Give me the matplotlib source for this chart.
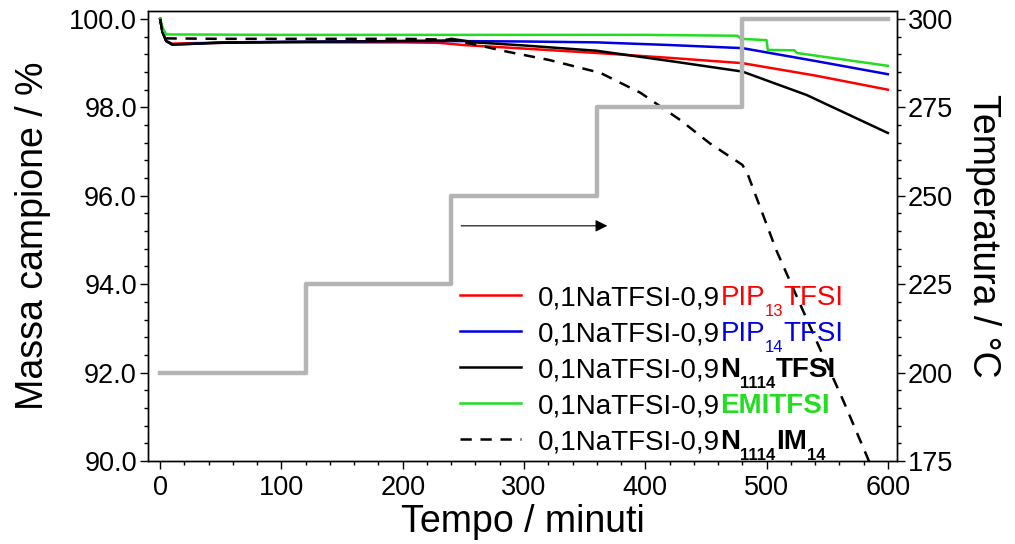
import numpy as np
import matplotlib
matplotlib.use('Agg')
import matplotlib.pyplot as plt
from matplotlib.ticker import MultipleLocator, FormatStrFormatter

plt.rcParams['font.family'] = ['Liberation Sans', 'DejaVu Sans']

# temperature program (step)
temp_t = [0, 120, 240, 360, 480, 600]
temp_v = [200, 225, 250, 275, 300, 300]

# mass curves
pip13_t = [0, 2, 5, 10, 20, 50, 100, 150, 200, 230, 250, 300, 360, 420, 480, 540, 600]
pip13_m = [100.0, 99.7, 99.5, 99.44, 99.45, 99.46, 99.47, 99.47, 99.47, 99.46, 99.41, 99.33, 99.23, 99.12, 99.0, 98.72, 98.4]

pip14_t = [0, 2, 5, 10, 20, 50, 100, 200, 240, 300, 360, 420, 480, 540, 600]
pip14_m = [100.0, 99.7, 99.5, 99.42, 99.43, 99.47, 99.48, 99.5, 99.5, 99.49, 99.47, 99.41, 99.34, 99.05, 98.75]

n1114_t = [0, 2, 5, 10, 20, 50, 100, 200, 235, 240, 260, 300, 360, 420, 480, 533, 600]
n1114_m = [100.0, 99.7, 99.5, 99.42, 99.43, 99.46, 99.48, 99.5, 99.51, 99.55, 99.47, 99.4, 99.28, 99.05, 98.81, 98.28, 97.42]

emi_t = [0, 2, 5, 100, 200, 300, 400, 476, 479, 500, 501, 523, 525, 600]
emi_m = [100.0, 99.8, 99.65, 99.64, 99.64, 99.64, 99.64, 99.62, 99.55, 99.52, 99.3, 99.29, 99.23, 98.94]

im14_t = [0, 2, 5, 50, 100, 150, 200, 240, 260, 286, 321, 363, 396, 429, 453, 470, 480, 484, 508, 536, 563, 583, 600]
im14_m = [100.0, 99.7, 99.56, 99.55, 99.55, 99.55, 99.55, 99.53, 99.42, 99.26, 99.07, 98.78, 98.33, 97.71, 97.19, 96.88, 96.7, 96.52, 94.77, 93.03, 91.38, 90.09, 88.9]

fig = plt.figure(figsize=(10.15, 5.44), dpi=100)
ax = fig.add_subplot(111)
fig.subplots_adjust(left=0.1458, right=0.8837, top=0.9798, bottom=0.1526)
ax2 = ax.twinx()

lw = 1.8
l1, = ax.plot(pip13_t, pip13_m, color='#ff0000', lw=lw)
l2, = ax.plot(pip14_t, pip14_m, color='#0000e0', lw=lw)
l3, = ax.plot(n1114_t, n1114_m, color='black', lw=lw)
l4, = ax.plot(emi_t, emi_m, color='#22dd22', lw=lw)
l5, = ax.plot(im14_t, im14_m, color='black', lw=lw, dashes=(4.5, 3.5))

ax2.plot(temp_t, temp_v, color='#b4b4b4', lw=3.2, drawstyle='steps-post')

ax.annotate('', xy=(371, 95.32), xytext=(246, 95.32),
            arrowprops=dict(arrowstyle='-|>', color='black', lw=0.8, mutation_scale=18))

ax.set_xlim(-10, 607.5)
ax.set_ylim(90, 100.18)
ax2.set_ylim(175, 302.25)

ax.xaxis.set_major_locator(MultipleLocator(100))
ax.xaxis.set_minor_locator(MultipleLocator(20))
ax.yaxis.set_major_locator(MultipleLocator(2))
ax.yaxis.set_minor_locator(MultipleLocator(0.4))
ax.yaxis.set_major_formatter(FormatStrFormatter('%.1f'))
ax2.yaxis.set_major_locator(MultipleLocator(25))
ax2.yaxis.set_minor_locator(MultipleLocator(5))

for a in (ax, ax2):
    a.tick_params(which='major', direction='out', length=6, width=1, labelsize=19.5,
                  colors='black', pad=2)
    a.tick_params(which='minor', direction='out', length=3, width=1)
    for s in a.spines.values():
        s.set_linewidth(1)
ax.tick_params(axis='x', which='both', top=False)
ax.tick_params(axis='y', which='both', right=False)
ax.tick_params(axis='x', which='major', pad=4)

ax.set_xlabel('Tempo / minuti', fontsize=27, labelpad=2)
ax.set_ylabel('Massa campione / %', fontsize=27, labelpad=13)
ax2.set_ylabel('Temperatura / °C', fontsize=27, rotation=270, labelpad=34)

base = '0,1NaTFSI-0,9'
leg = ax.legend([l1, l2, l3, l4, l5], [base] * 5, loc='upper left',
                bbox_to_anchor=(0.4166, 0.391), frameon=False, fontsize=20,
                handlelength=2.2, handletextpad=0.62, labelspacing=0.36,
                borderpad=0, borderaxespad=0)

# coloured tail of each legend label: (text, colour, bold, subscript)
tails = [
    [('PIP', '#ff0000', False, False), ('13', '#ff0000', False, True), ('TFSI', '#ff0000', False, False)],
    [('PIP', '#0000e0', False, False), ('14', '#0000e0', False, True), ('TFSI', '#0000e0', False, False)],
    [('N', 'black', True, False), ('1114', 'black', True, True), ('TFSI', 'black', True, False)],
    [('EMITFSI', '#22dd22', True, False)],
    [('N', 'black', True, False), ('1114', 'black', True, True), ('IM', 'black', True, False), ('14', 'black', True, True)],
]
for txt, pieces in zip(leg.get_texts(), tails):
    prev = txt
    prev_sub = False
    for s, c, bold, sub in pieces:
        dy = 0
        if sub and not prev_sub:
            dy = -6
        elif prev_sub and not sub:
            dy = 6
        prev = ax.annotate(s, xy=(1, 0), xycoords=prev, xytext=(0, dy),
                           textcoords='offset points', va='bottom', ha='left',
                           color=c, fontsize=12 if sub else 20,
                           fontweight='bold' if bold else 'normal', zorder=10)
        prev_sub = sub

fig.savefig('out.png', dpi=100)
